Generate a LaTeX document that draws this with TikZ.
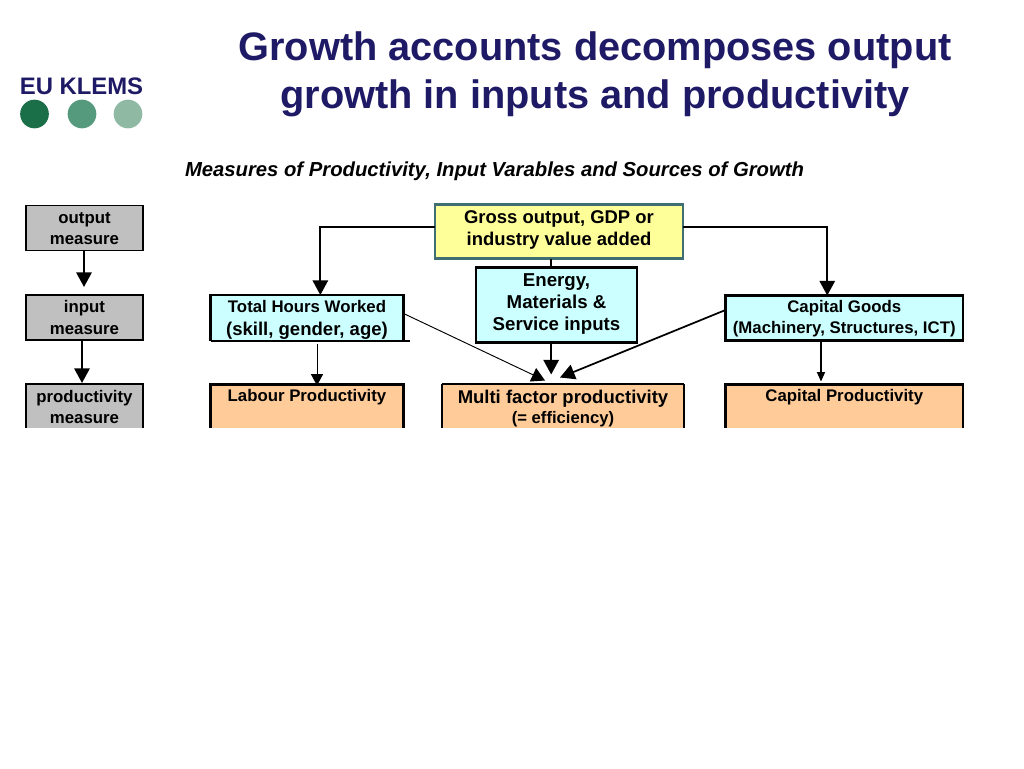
\documentclass[tikz,border=0pt]{standalone}
\usepackage{fontspec}
\setmainfont{Liberation Sans}
\usetikzlibrary{arrows.meta}
\definecolor{navy}{HTML}{1F1A66}
\definecolor{greybox}{HTML}{C0C0C0}
\definecolor{cyanbox}{HTML}{CCFFFF}
\definecolor{yellowbox}{HTML}{FFFF99}
\definecolor{orangebox}{HTML}{FFCC99}
\definecolor{tealline}{HTML}{3F6F73}
\definecolor{dotA}{HTML}{1A6E48}
\definecolor{dotB}{HTML}{559A7C}
\definecolor{dotC}{HTML}{8FB9A3}
\newcommand\tallstrut[1]{\rule{0pt}{#1}}
\newcommand\deepstrut[1]{\rule[-#1]{0pt}{#1}}
\tikzset{
  x=0.75pt,y=-0.75pt,
  box/.style 2 args={inner sep=0pt,outer sep=0pt,align=center,anchor=north west,
    minimum width=#1*0.75pt,minimum height=#2*0.75pt,
    font=\bfseries\fontsize{12.6}{15.8}\selectfont},
  greyb/.style={box={117}{#1},draw=black,fill=greybox,line width=1.3pt},
  inputb/.style 2 args={box={#1}{#2},draw=black,fill=cyanbox,line width=2.2pt},
  prodb/.style={box={#1}{46},fill=orangebox},
  edgeline/.style={line width=2.2pt,line cap=butt},
  hairline/.style={line width=.8pt},
  bigarrow/.style={line width=1.6pt,-{Triangle[length=11pt,width=11.5pt]}},
  thinarrow/.style={line width=.7pt,-{Triangle[length=10pt,width=11pt]}},
  midarrow/.style={line width=.7pt,-{Triangle[length=8.5pt,width=9pt]}},
  smallarrow/.style={line width=.9pt,-{Triangle[length=7pt,width=6pt]}},
  plain/.style={line width=1.4pt},
  dot/.style={circle,minimum size=21.5pt,inner sep=0pt,outer sep=0pt},
}
\begin{document}
\begin{tikzpicture}
\useasboundingbox (0,0) rectangle (1024,768);
\node[font=\bfseries\fontsize{29.8}{36}\selectfont,text=navy,align=center,inner sep=0pt] (title) at (595,74.5) {Growth accounts decomposes output\\growth in inputs and productivity};
\node[font=\bfseries\fontsize{17.9}{20}\selectfont,text=navy,inner sep=0pt] (logo) at (81.5,86) {EU KLEMS};
\node[dot,fill=dotA] (d1) at (34.5,114) {};
\node[dot,fill=dotB] (d2) at (82,114) {};
\node[dot,fill=dotC] (d3) at (128,114) {};
\node[font=\bfseries\itshape\fontsize{15.2}{18}\selectfont,inner sep=0pt] (sub) at (494.5,171.5) {Measures of Productivity, Input Varables and Sources of Growth};
\begin{scope}
\clip (0,0) rectangle (1024,427);
% left column
\node[greyb=45] (outm) at (26,205.5) {\tallstrut{9.6pt}output\\measure};
\node[greyb=45] (inm) at (26,295) {input\\measure};
\node[greyb=46] (prodm) at (26,384) {productivity\\measure};
\draw[bigarrow] (outm.south -| 84,0) -- (84,287);
\draw[bigarrow] (inm.south -| 82,0) -- (82,383);
% gross output
\node[box={248}{54},draw=tealline,fill=yellowbox,line width=1.9pt,font=\bfseries\fontsize{13.85}{16.5}\selectfont] (gross) at (435,204.5) {Gross output, GDP or\\industry value added\deepstrut{4.9pt}};
% energy
\node[inputb={161}{75},font=\bfseries\fontsize{14}{16.5}\selectfont] (energy) at (476,267.5) {Energy,\\Materials \&\\Service inputs\deepstrut{4.2pt}};
% total hours
\node[box={193}{46},fill=cyanbox] (hours) at (210.5,295) {\tallstrut{12pt}Total Hours Worked\\[1.5pt]{\fontsize{13.9}{15.8}\selectfont (skill, gender, age)}};
\draw[edgeline] (hours.south west) |- (hours.north east) -- (hours.south east);
\draw[hairline] (hours.south west) -- ++(199,0) coordinate (hoursend);
% capital goods
\node[inputb={237.5}{45}] (capital) at (725.5,295.5) {\tallstrut{9.6pt}Capital Goods\\(Machinery, Structures, ICT)};
% productivity boxes
\node[prodb=193] (labour) at (210.5,384.5) {Labour Productivity\\[-2pt]\strut};
\draw[edgeline] (labour.south west) |- (labour.north east) -- (labour.south east);
\node[box={242}{46},fill=orangebox] (mfp) at (442,384) {\tallstrut{12.4pt}{\fontsize{13.86}{15.8}\selectfont Multi factor productivity}\\[-1pt]{\fontsize{12.5}{15}\selectfont (= efficiency)}};
\draw[hairline] (mfp.north west) -- (mfp.north east);
\draw[edgeline] (mfp.north west) -- (mfp.south west);
\draw[edgeline] (mfp.north east) -- (mfp.south east);
\node[prodb=237.5] (capprod) at (725.5,384.5) {Capital Productivity\\[-2pt]\strut};
\draw[edgeline] (capprod.south west) |- (capprod.north east) -- (capprod.south east);
% connectors
\draw[bigarrow,line width=1.5pt] ([yshift=3.4pt]gross.west) -| ([xshift=10pt]hours.north);
\draw[bigarrow,line width=1.5pt] ([yshift=3.4pt]gross.east) -| ([xshift=-12.75pt]capital.north);
\draw[plain] ([xshift=-4pt]gross.south -| energy.north) coordinate (gs) -- (gs |- energy.north);
\draw[bigarrow] (gs |- energy.south) -- ++(0,32);
\draw[thinarrow] ([yshift=3.4pt]hours.east) -- (545,380.5);
\draw[bigarrow,line width=1.3pt] ([yshift=6pt]capital.west) -- (560,377.5);
\draw[midarrow] (317,344) -- (317,385.5);
\draw[smallarrow] (capital.south -| 821,0) -- (821,381.5);
\end{scope}
\end{tikzpicture}
\end{document}
